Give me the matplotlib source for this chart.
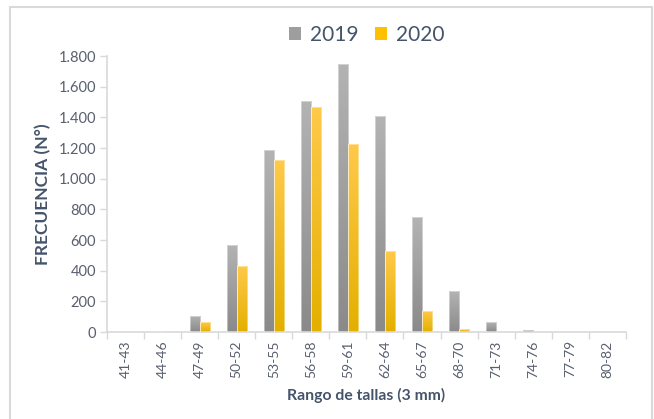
import matplotlib.pyplot as plt
import numpy as np
from matplotlib.colors import LinearSegmentedColormap
from matplotlib.patches import Rectangle
from matplotlib.ticker import FuncFormatter

# Data
rangos = ["41-43", "44-46", "47-49", "50-52", "53-55", "56-58", "59-61",
          "62-64", "65-67", "68-70", "71-73", "74-76", "77-79", "80-82"]
frec_2019 = [0, 5, 105, 570, 1185, 1510, 1750, 1410, 750, 265, 65, 10, 0, 0]
frec_2020 = [0, 0, 65, 430, 1120, 1465, 1225, 530, 140, 18, 0, 0, 0, 0]

plt.rcParams['font.family'] = ['Lato', 'DejaVu Sans']
txt_color = '#595f6e'
title_color = '#44546a'
line_color = '#d9d9d9'

fig = plt.figure(figsize=(6.54, 4.19), dpi=100)
ax = fig.add_axes([0.1636, 0.2076, 0.957 - 0.1636, 0.866 - 0.2076])

# outer chart frame
fig.patches.append(Rectangle((10 / 654, -0.05), (642 / 654), 1.05 - 7 / 419,
                             transform=fig.transFigure, fill=False,
                             edgecolor=line_color, linewidth=1.5))

x = np.arange(len(rangos))
w = 0.27
b1 = ax.bar(x - w / 2, frec_2019, w, color='#a6a6a6', label='2019')
b2 = ax.bar(x + w / 2, frec_2020, w, color='#ffc000', label='2020')

# vertical gradients inside each bar
grad = np.linspace(1, 0, 64).reshape(-1, 1)
cmaps = [LinearSegmentedColormap.from_list('g', ['#8a8a8a', '#b3b3b3']),
         LinearSegmentedColormap.from_list('y', ['#e3b000', '#ffc94a'])]
for bars, cm in zip([b1, b2], cmaps):
    for p in bars:
        h = p.get_height()
        if h <= 0:
            continue
        x0 = p.get_x()
        im = ax.imshow(1 - grad, extent=[x0, x0 + p.get_width(), 0, h],
                       aspect='auto', cmap=cm, origin='lower', zorder=2,
                       vmin=0, vmax=1)
        im.set_clip_path(p)
        p.set_facecolor('none')
        p.set_edgecolor((1, 1, 1, 0.5))
        p.set_linewidth(0.6)
        p.set_zorder(3)

ax.set_xlim(-0.5, len(rangos) - 0.5)
ax.set_ylim(0, 1800)
ax.set_yticks(range(0, 1801, 200))
ax.yaxis.set_major_formatter(FuncFormatter(lambda v, _: f"{int(v):,}".replace(',', '.')))
ax.set_xticks(x)
ax.set_xticklabels(rangos, rotation=90)
ax.set_xticks(np.arange(-0.5, len(rangos)), minor=True)
ax.tick_params(axis='x', which='major', length=0, pad=6, labelsize=10, labelcolor=txt_color)
ax.tick_params(axis='x', which='minor', length=5, color=line_color, width=1)
ax.tick_params(axis='y', length=5, color=line_color, width=1, pad=3,
               labelsize=10.5, labelcolor=txt_color)

for s in ['top', 'right']:
    ax.spines[s].set_visible(False)
for s in ['left', 'bottom']:
    ax.spines[s].set_color(line_color)
    ax.spines[s].set_linewidth(1.2)

ax.set_ylabel('FRECUENCIA (N°)', fontsize=12.5, fontweight='bold', color=title_color, labelpad=5)
ax.set_xlabel('Rango de tallas (3 mm)', fontsize=11.3, fontweight='bold', color=title_color, labelpad=7)

leg = ax.legend(loc='lower center', bbox_to_anchor=(0.5, 1.0), ncol=2, frameon=False,
                fontsize=15, handlelength=0.6, handleheight=0.6, handletextpad=0.4,
                columnspacing=0.8, borderaxespad=0.15)
for t in leg.get_texts():
    t.set_color(title_color)
leg.legend_handles[0].set_facecolor('#9e9e9e')
leg.legend_handles[1].set_facecolor('#ffc000')

fig.savefig('out.png', dpi=100)
